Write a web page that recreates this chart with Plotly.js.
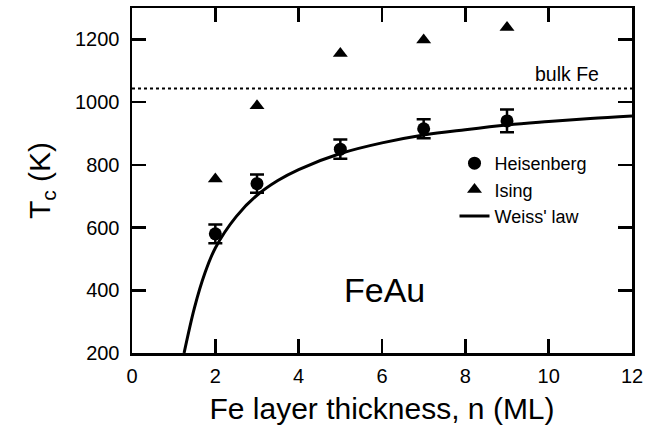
<!DOCTYPE html>
<html>
<head>
<meta charset="utf-8">
<script src="https://cdn.plot.ly/plotly-3.0.1.min.js"></script>
<style>html,body{margin:0;padding:0;background:#fff;}#chart{width:668px;height:440px;}</style>
</head>
<body>
<div id="chart"></div>
<script>
// ---- data ----
const layersN = [2, 3, 5, 7, 9];
const heisenbergTc = [580, 740, 850, 915, 940];
const heisenbergErr = [30, 29, 31, 30, 36];
const isingTc = [755, 988, 1155, 1198, 1238];
const weissN = [1.25, 1.5, 1.75, 2, 2.5, 3, 3.5, 4, 5, 6, 7, 8, 9, 10, 11, 12];
const weissTc = [200, 345, 455, 535, 635, 703, 750, 785, 836, 870, 895, 912, 927, 938, 948, 956];
const bulkFeTc = 1043;
const xRange = [0, 12];
const yRange = [200, 1300];

const FONT = 'Arial, "Liberation Sans", Helvetica, sans-serif';

const traces = [
  {
    x: layersN, y: heisenbergTc, name: 'Heisenberg', type: 'scatter', mode: 'markers',
    marker: {symbol: 'circle', size: 13, color: '#000'},
    error_y: {type: 'data', array: heisenbergErr, visible: true, color: '#000', thickness: 2.5, width: 7}
  },
  {
    x: layersN, y: isingTc, name: 'Ising', type: 'scatter', mode: 'markers',
    marker: {symbol: 'triangle-up', size: 13, color: '#000'}
  },
  {
    x: weissN, y: weissTc, name: "Weiss' law", type: 'scatter', mode: 'lines',
    line: {color: '#000', width: 3, shape: 'spline', smoothing: 1}
  }
];

const axisCommon = {
  showline: true, linecolor: '#000', linewidth: 2.5, mirror: 'ticks',
  ticks: 'inside', ticklen: 14, tickwidth: 2.5, tickcolor: '#000',
  showgrid: false, zeroline: false,
  tickfont: {family: FONT, size: 20, color: '#000'}
};

const layout = {
  width: 668, height: 440,
  margin: {l: 132, r: 36, t: 8, b: 87},
  paper_bgcolor: '#fff', plot_bgcolor: '#fff',
  font: {family: FONT, color: '#000'},
  showlegend: true,
  legend: {
    x: 0.645, y: 0.603, xanchor: 'left', yanchor: 'top',
    bgcolor: 'rgba(0,0,0,0)', font: {family: FONT, size: 18, color: '#000'},
    itemwidth: 30, tracegroupgap: 0
  },
  xaxis: Object.assign({}, axisCommon, {
    range: xRange, dtick: 2, tick0: 0,
    ticklabelstandoff: 3,
    title: {text: 'Fe layer thickness, n (ML)', font: {family: FONT, size: 30, color: '#000'}, standoff: 13}
  }),
  yaxis: Object.assign({}, axisCommon, {
    range: yRange, dtick: 200, tick0: 200,
    ticklabelstandoff: 6,
    title: {text: 'T<sub>c</sub> (K)', font: {family: FONT, size: 30, color: '#000'}, standoff: 16}
  }),
  shapes: [{
    type: 'line', xref: 'x', yref: 'y', x0: xRange[0], x1: xRange[1], y0: bulkFeTc, y1: bulkFeTc,
    line: {color: '#000', width: 2, dash: 'dot'}
  }],
  annotations: [
    {x: 6.05, y: 400, xref: 'x', yref: 'y', text: 'FeAu', showarrow: false,
     font: {family: FONT, size: 34, color: '#000'}},
    {x: 11.25, y: bulkFeTc, xref: 'x', yref: 'y', text: 'bulk Fe', showarrow: false,
     xanchor: 'right', yanchor: 'bottom', yshift: 2,
     font: {family: FONT, size: 19.5, color: '#000'}}
  ]
};

Plotly.newPlot('chart', traces, layout, {displayModeBar: false, staticPlot: true});
</script>
</body>
</html>
